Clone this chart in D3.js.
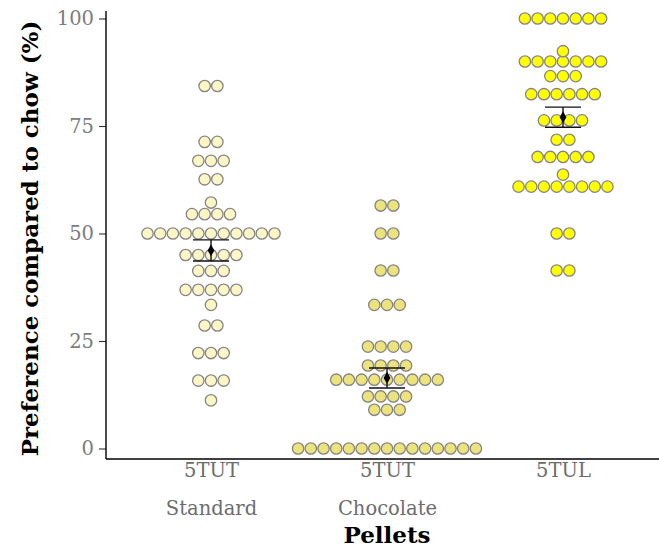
<!DOCTYPE html>
<html>
<head>
<meta charset="utf-8">
<script src="https://cdn.jsdelivr.net/npm/d3@7"></script>
<style>
  body { margin: 0; background: #fff; }
  svg { display: block; }
  text { font-family: "DejaVu Serif", "Liberation Serif", serif; }
</style>
</head>
<body>
<svg id="chart" width="659" height="551"></svg>
<script>
// Pellet groups shown on the x axis (two-line labels)
const categories = ["5TUT Standard", "5TUT Chocolate", "5TUL"];
const categoryLines = [["5TUT", "Standard"], ["5TUT", "Chocolate"], ["5TUL"]];

// Per-animal preference scores (%) for each pellet type
const standardValues = [
  84.3, 84.3, 71.3, 71.3, 66.9, 66.9, 66.9, 62.6, 62.6, 57.2,
  54.5, 54.5, 54.5, 54.5,
  50, 50, 50, 50, 50, 50, 50, 50, 50, 50, 50,
  45, 45, 45, 45, 45, 41.3, 41.3, 41.3,
  36.9, 36.9, 36.9, 36.9, 36.9, 33.4, 28.6, 28.6,
  22.2, 22.2, 22.2, 15.8, 15.8, 15.8, 11.2
];
const chocolateValues = [
  56.5, 56.5, 50, 50, 41.4, 41.4, 33.4, 33.4, 33.4,
  23.7, 23.7, 23.7, 23.7, 19.3, 19.3, 19.3, 19.3,
  16, 16, 16, 16, 16, 16, 16, 16, 16,
  12.1, 12.1, 12.1, 12.1, 9, 9, 9,
  0, 0, 0, 0, 0, 0, 0, 0, 0, 0, 0, 0, 0, 0, 0
];
const tulValues = [
  100, 100, 100, 100, 100, 100, 100, 92.4,
  90, 90, 90, 90, 90, 90, 90, 86.6, 86.6, 86.6,
  82.4, 82.4, 82.4, 82.4, 82.4, 82.4, 76.3, 76.3, 76.3, 76.3,
  71.8, 71.8, 67.8, 67.8, 67.8, 67.8, 67.8, 63.7,
  60.9, 60.9, 60.9, 60.9, 60.9, 60.9, 60.9, 60.9,
  50, 50, 41.4, 41.4
];
const seriesValues = [standardValues, chocolateValues, tulValues];
const fills = ["#fff6c6", "#ede37c", "#ffff00"];

const yTicks = [0, 25, 50, 75, 100];

const svg = d3.select("#chart");
const plot = { left: 106, right: 668, top: 11, bottom: 459 };

const x = d3.scalePoint()
  .domain(categories)
  .range([211, 563]);

const y = d3.scaleLinear()
  .domain([0, 100])
  .range([448.5, 18.5]);

const dotStep = 12.7;   // horizontal stacking distance between dots
const dotR = 5.7;

// Dots: values that coincide are stacked sideways, centred on the group
seriesValues.forEach((vals, gi) => {
  const bins = d3.rollups(vals, v => v.length, d => d)
    .sort((a, b) => a[0] - b[0]);
  const dots = [];
  bins.forEach(([value, n]) => {
    for (let i = 0; i < n; i++) {
      dots.push({ value, offset: (i - (n - 1) / 2) * dotStep });
    }
  });
  svg.append("g")
    .selectAll("circle")
    .data(dots)
    .join("circle")
    .attr("cx", d => x(categories[gi]) + d.offset)
    .attr("cy", d => y(d.value))
    .attr("r", dotR)
    .attr("fill", fills[gi])
    .attr("stroke", "#858585")
    .attr("stroke-width", 1.3);
});

// Mean ± standard error for each group
const summary = seriesValues.map((vals, gi) => {
  const m = d3.mean(vals);
  const se = d3.deviation(vals) / Math.sqrt(vals.length);
  return { cat: categories[gi], mean: m, lo: m - se, hi: m + se };
});

const capHalf = 18;
const sg = svg.append("g").attr("stroke", "#111").attr("stroke-width", 1.4);
summary.forEach(s => {
  const cx = x(s.cat);
  sg.append("line").attr("x1", cx).attr("x2", cx).attr("y1", y(s.hi)).attr("y2", y(s.lo));
  sg.append("line").attr("x1", cx - capHalf).attr("x2", cx + capHalf).attr("y1", y(s.hi)).attr("y2", y(s.hi));
  sg.append("line").attr("x1", cx - capHalf).attr("x2", cx + capHalf).attr("y1", y(s.lo)).attr("y2", y(s.lo));
});
svg.append("g")
  .selectAll("path")
  .data(summary)
  .join("path")
  .attr("d", d3.symbol().type(d3.symbolDiamond).size(40))
  .attr("transform", d => `translate(${x(d.cat)},${y(d.mean)})`)
  .attr("fill", "#000");

// Y axis
const yAxis = svg.append("g")
  .attr("transform", `translate(${plot.left},0)`)
  .call(d3.axisLeft(y).tickValues(yTicks).tickSize(7).tickPadding(5).tickFormat(d3.format("d")));
yAxis.select(".domain").remove();
yAxis.append("line")
  .attr("x1", 0).attr("x2", 0)
  .attr("y1", plot.top).attr("y2", plot.bottom)
  .attr("stroke", "#000").attr("stroke-width", 1.4);
yAxis.selectAll(".tick line").attr("stroke", "#333").attr("stroke-width", 1.1);
yAxis.selectAll(".tick text")
  .attr("fill", "#7d7d7d")
  .style("font-size", "19.5px");

// X axis
const xAxis = svg.append("g")
  .attr("transform", `translate(0,${plot.bottom})`)
  .call(d3.axisBottom(x).tickSize(0).tickFormat(""));
xAxis.select(".domain").remove();
xAxis.append("line")
  .attr("x1", plot.left).attr("x2", plot.right)
  .attr("y1", 0).attr("y2", 0)
  .attr("stroke", "#000").attr("stroke-width", 1.4);
xAxis.selectAll(".tick").each(function (d, i) {
  const t = d3.select(this).append("text")
    .attr("fill", "#6d6d6d")
    .attr("text-anchor", "middle")
    .style("font-size", "19.5px");
  categoryLines[i].forEach((line, li) => {
    t.append("tspan").attr("x", 0).attr("y", 18 + li * 38).text(line);
  });
});

// Axis titles
svg.append("text")
  .attr("x", x(categories[1]))
  .attr("y", 543)
  .attr("text-anchor", "middle")
  .style("font-size", "23px")
  .style("font-weight", "bold")
  .attr("fill", "#000")
  .text("Pellets");

svg.append("text")
  .attr("transform", `translate(38,${(18 + 459) / 2}) rotate(-90)`)
  .attr("text-anchor", "middle")
  .style("font-size", "23px")
  .style("font-weight", "bold")
  .attr("fill", "#000")
  .text("Preference compared to chow (%)");
</script>
</body>
</html>
